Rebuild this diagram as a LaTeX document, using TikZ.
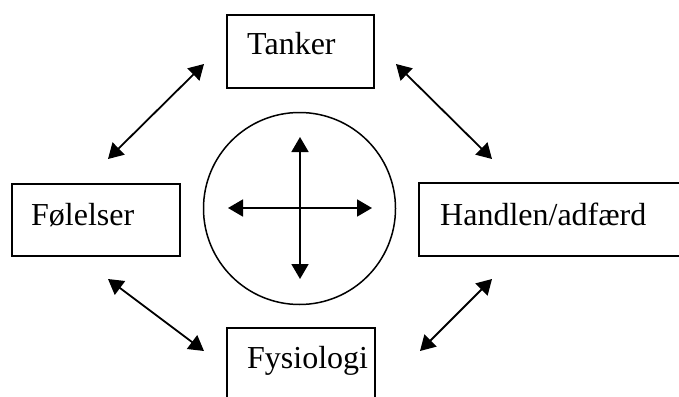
\documentclass[tikz,border=0pt]{standalone}
\usepackage{fontspec}
\setmainfont{Liberation Serif}
\usetikzlibrary{arrows.meta}
\begin{document}
\begin{tikzpicture}[x=1pt,y=-1pt,
  boxst/.style={draw=black,line width=2pt},
  lbl/.style={anchor=base west,inner sep=0pt,font=\fontsize{32}{38}\selectfont},
  dbl/.style={line width=1.8pt,{Triangle[length=15pt,width=17pt]}-{Triangle[length=15pt,width=17pt]}}]
\useasboundingbox (0,0) rectangle (679,396);
\clip (0,0) rectangle (679,396);
% boxes
\draw[boxst] (227,15) rectangle (374,88);
\draw[boxst] (12,184) rectangle (180,256);
\draw[boxst] (419,183) rectangle (700,256);
\draw[boxst] (227,328) rectangle (375,430);
\node[lbl] (tanker) at (247,55) {Tanker};
\node[lbl] (folelser) at (31,225) {Følelser};
\node[lbl] (handlen) at (440,225) {Handlen/adfærd};
\node[lbl] (fysiologi) at (247,368) {Fysiologi};
% circle
\node[draw=black,line width=1.5pt,circle,minimum size=192pt,inner sep=0pt] (circ) at (299.5,208.5) {};
\coordinate (vt) at (300,137);
\coordinate (vb) at (300,279);
\coordinate (hl) at (228,208);
\coordinate (hr) at (372,208);
\draw[dbl] (vt) -- (vb);
\draw[dbl] (hl) -- (hr);
% diagonal arrows
\coordinate (a1) at (204,64);
\coordinate (a2) at (108,159);
\coordinate (b1) at (396,64);
\coordinate (b2) at (492,159);
\coordinate (c1) at (108,279);
\coordinate (c2) at (204,351);
\coordinate (d1) at (492,279);
\coordinate (d2) at (420,351);
\draw[dbl] (a1) -- (a2);
\draw[dbl] (b1) -- (b2);
\draw[dbl] (c1) -- (c2);
\draw[dbl] (d1) -- (d2);
\end{tikzpicture}
\end{document}
